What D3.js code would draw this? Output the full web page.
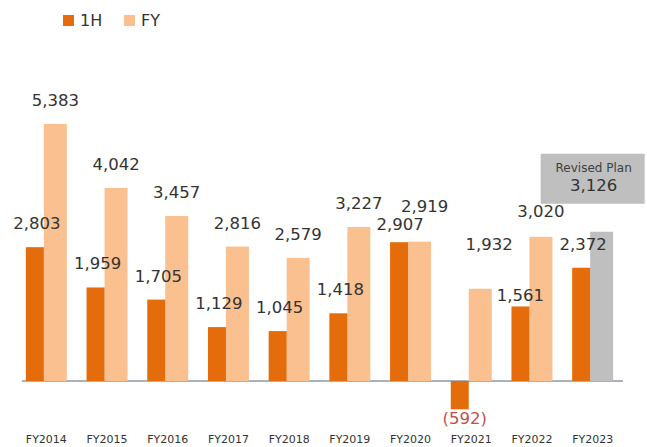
<!DOCTYPE html>
<html>
<head>
<meta charset="utf-8">
<script src="https://cdn.jsdelivr.net/npm/d3@7"></script>
<style>
  html, body { margin: 0; padding: 0; background: #ffffff; }
  svg { display: block; font-family: "DejaVu Sans", Verdana, sans-serif; }
</style>
</head>
<body>
<div id="chart"></div>
<script>
// data
var years     = ["FY2014", "FY2015", "FY2016", "FY2017", "FY2018", "FY2019", "FY2020", "FY2021", "FY2022", "FY2023"];
var firstHalf = [2803, 1959, 1705, 1129, 1045, 1418, 2907, -592, 1561, 2372];
var fullYear  = [5383, 4042, 3457, 2816, 2579, 3227, 2919, 1932, 3020, 3126];
var seriesNames = ["1H", "FY"];
var planYear  = "FY2023";
var planTitle = "Revised Plan";

var width = 647, height = 447;
var cols = {h1: "#e46c0a", fy: "#fac090", plan: "#bfbfbf"};

var svg = d3.select("#chart").append("svg")
	.attr("width", width).attr("height", height);

var x = d3.scaleBand().domain(years).range([16, 623]).paddingInner(0.325).paddingOuter(0.1625);
var y = d3.scaleLinear().domain([0, 5383]).range([381, 124]);

var bw = x.bandwidth();
var h1w = bw * 18 / 41;
var fyw = bw - h1w;

var fmt = function(v){ return v < 0 ? "(" + d3.format(",")(-v) + ")" : d3.format(",")(v); };

var rows = years.map(function(d, i){
	return {year: d, h1: firstHalf[i], fy: fullYear[i]};
});

// hand placed labels in the original, nudged from default spot
var nudge = {
	"FY2020-h1": {dx: -1, dy: 6},
	"FY2020-fy": {dx: 5, dy: -12},
	"FY2021-h1": {dx: 3, dy: 0},
	"FY2021-fy": {dx: 9, dy: -21},
	"FY2022-h1": {dx: -2, dy: 12.5},
	"FY2022-fy": {dx: 0, dy: -2}
};

// baseline
svg.append("line")
	.attr("x1", 22).attr("x2", 623)
	.attr("y1", y(0)).attr("y2", y(0))
	.attr("stroke", "#a9b1bd").attr("stroke-width", 2);

var groups = svg.selectAll("g.grp").data(rows).enter().append("g")
	.attr("class", "grp")
	.attr("transform", function(d){ return "translate(" + x(d.year) + ",0)"; });

groups.append("rect")
	.attr("x", h1w).attr("width", fyw)
	.attr("y", function(d){ return y(d.fy); })
	.attr("height", function(d){ return y(0) - y(d.fy); })
	.attr("fill", function(d){ return d.year === planYear ? cols.plan : cols.fy; });

groups.append("rect")
	.attr("x", 0).attr("width", h1w)
	.attr("y", function(d){ return Math.min(y(d.h1), y(0)); })
	.attr("height", function(d){ return Math.abs(y(d.h1) - y(0)); })
	.attr("fill", cols.h1);

// value labels
groups.each(function(d){
	var g = d3.select(this);
	var n1 = nudge[d.year + "-h1"] || {dx: 0, dy: 0};
	g.append("text")
		.attr("x", h1w / 2 + 2 + n1.dx)
		.attr("y", d.h1 < 0 ? y(d.h1) + 15 : y(d.h1) - 18 + n1.dy)
		.attr("text-anchor", "middle")
		.attr("font-size", "16.5px")
		.attr("fill", d.h1 < 0 ? "#c0504d" : "#333333")
		.text(fmt(d.h1));
	if(d.year !== planYear){
		var n2 = nudge[d.year + "-fy"] || {dx: 0, dy: 0};
		g.append("text")
			.attr("x", h1w + fyw / 2 + n2.dx)
			.attr("y", y(d.fy) - 18 + n2.dy)
			.attr("text-anchor", "middle")
			.attr("font-size", "16.5px")
			.attr("fill", "#333333")
			.text(fmt(d.fy));
	}
});

// revised plan box
var pi = years.indexOf(planYear);
var px = x(planYear) + h1w + fyw / 2;
var boxTop = y(fullYear[pi]) - 78;
svg.append("rect")
	.attr("x", px - 61).attr("y", boxTop)
	.attr("width", 104).attr("height", 50)
	.attr("fill", cols.plan);
svg.append("text")
	.attr("x", px - 8).attr("y", boxTop + 18)
	.attr("text-anchor", "middle")
	.attr("font-size", "12px")
	.attr("fill", "#404040")
	.text(planTitle);
svg.append("text")
	.attr("x", px - 8).attr("y", boxTop + 37)
	.attr("text-anchor", "middle")
	.attr("font-size", "16.5px")
	.attr("fill", "#333333")
	.text(fmt(fullYear[pi]));

// category labels
svg.selectAll("text.cat").data(years).enter().append("text")
	.attr("class", "cat")
	.attr("x", function(d){ return x(d) + bw / 2; })
	.attr("y", 443)
	.attr("text-anchor", "middle")
	.attr("font-size", "11px")
	.attr("fill", "#333333")
	.text(function(d){ return d; });

// legend
var leg = svg.selectAll("g.leg").data(seriesNames).enter().append("g")
	.attr("class", "leg")
	.attr("transform", function(d, i){ return "translate(" + (63 + i * 61) + ",15)"; });
leg.append("rect").attr("width", 11).attr("height", 11)
	.attr("fill", function(d, i){ return i === 0 ? cols.h1 : cols.fy; });
leg.append("text").attr("x", 17).attr("y", 11)
	.attr("font-size", "16px")
	.attr("fill", "#333333")
	.text(function(d){ return d; });
</script>
</body>
</html>
